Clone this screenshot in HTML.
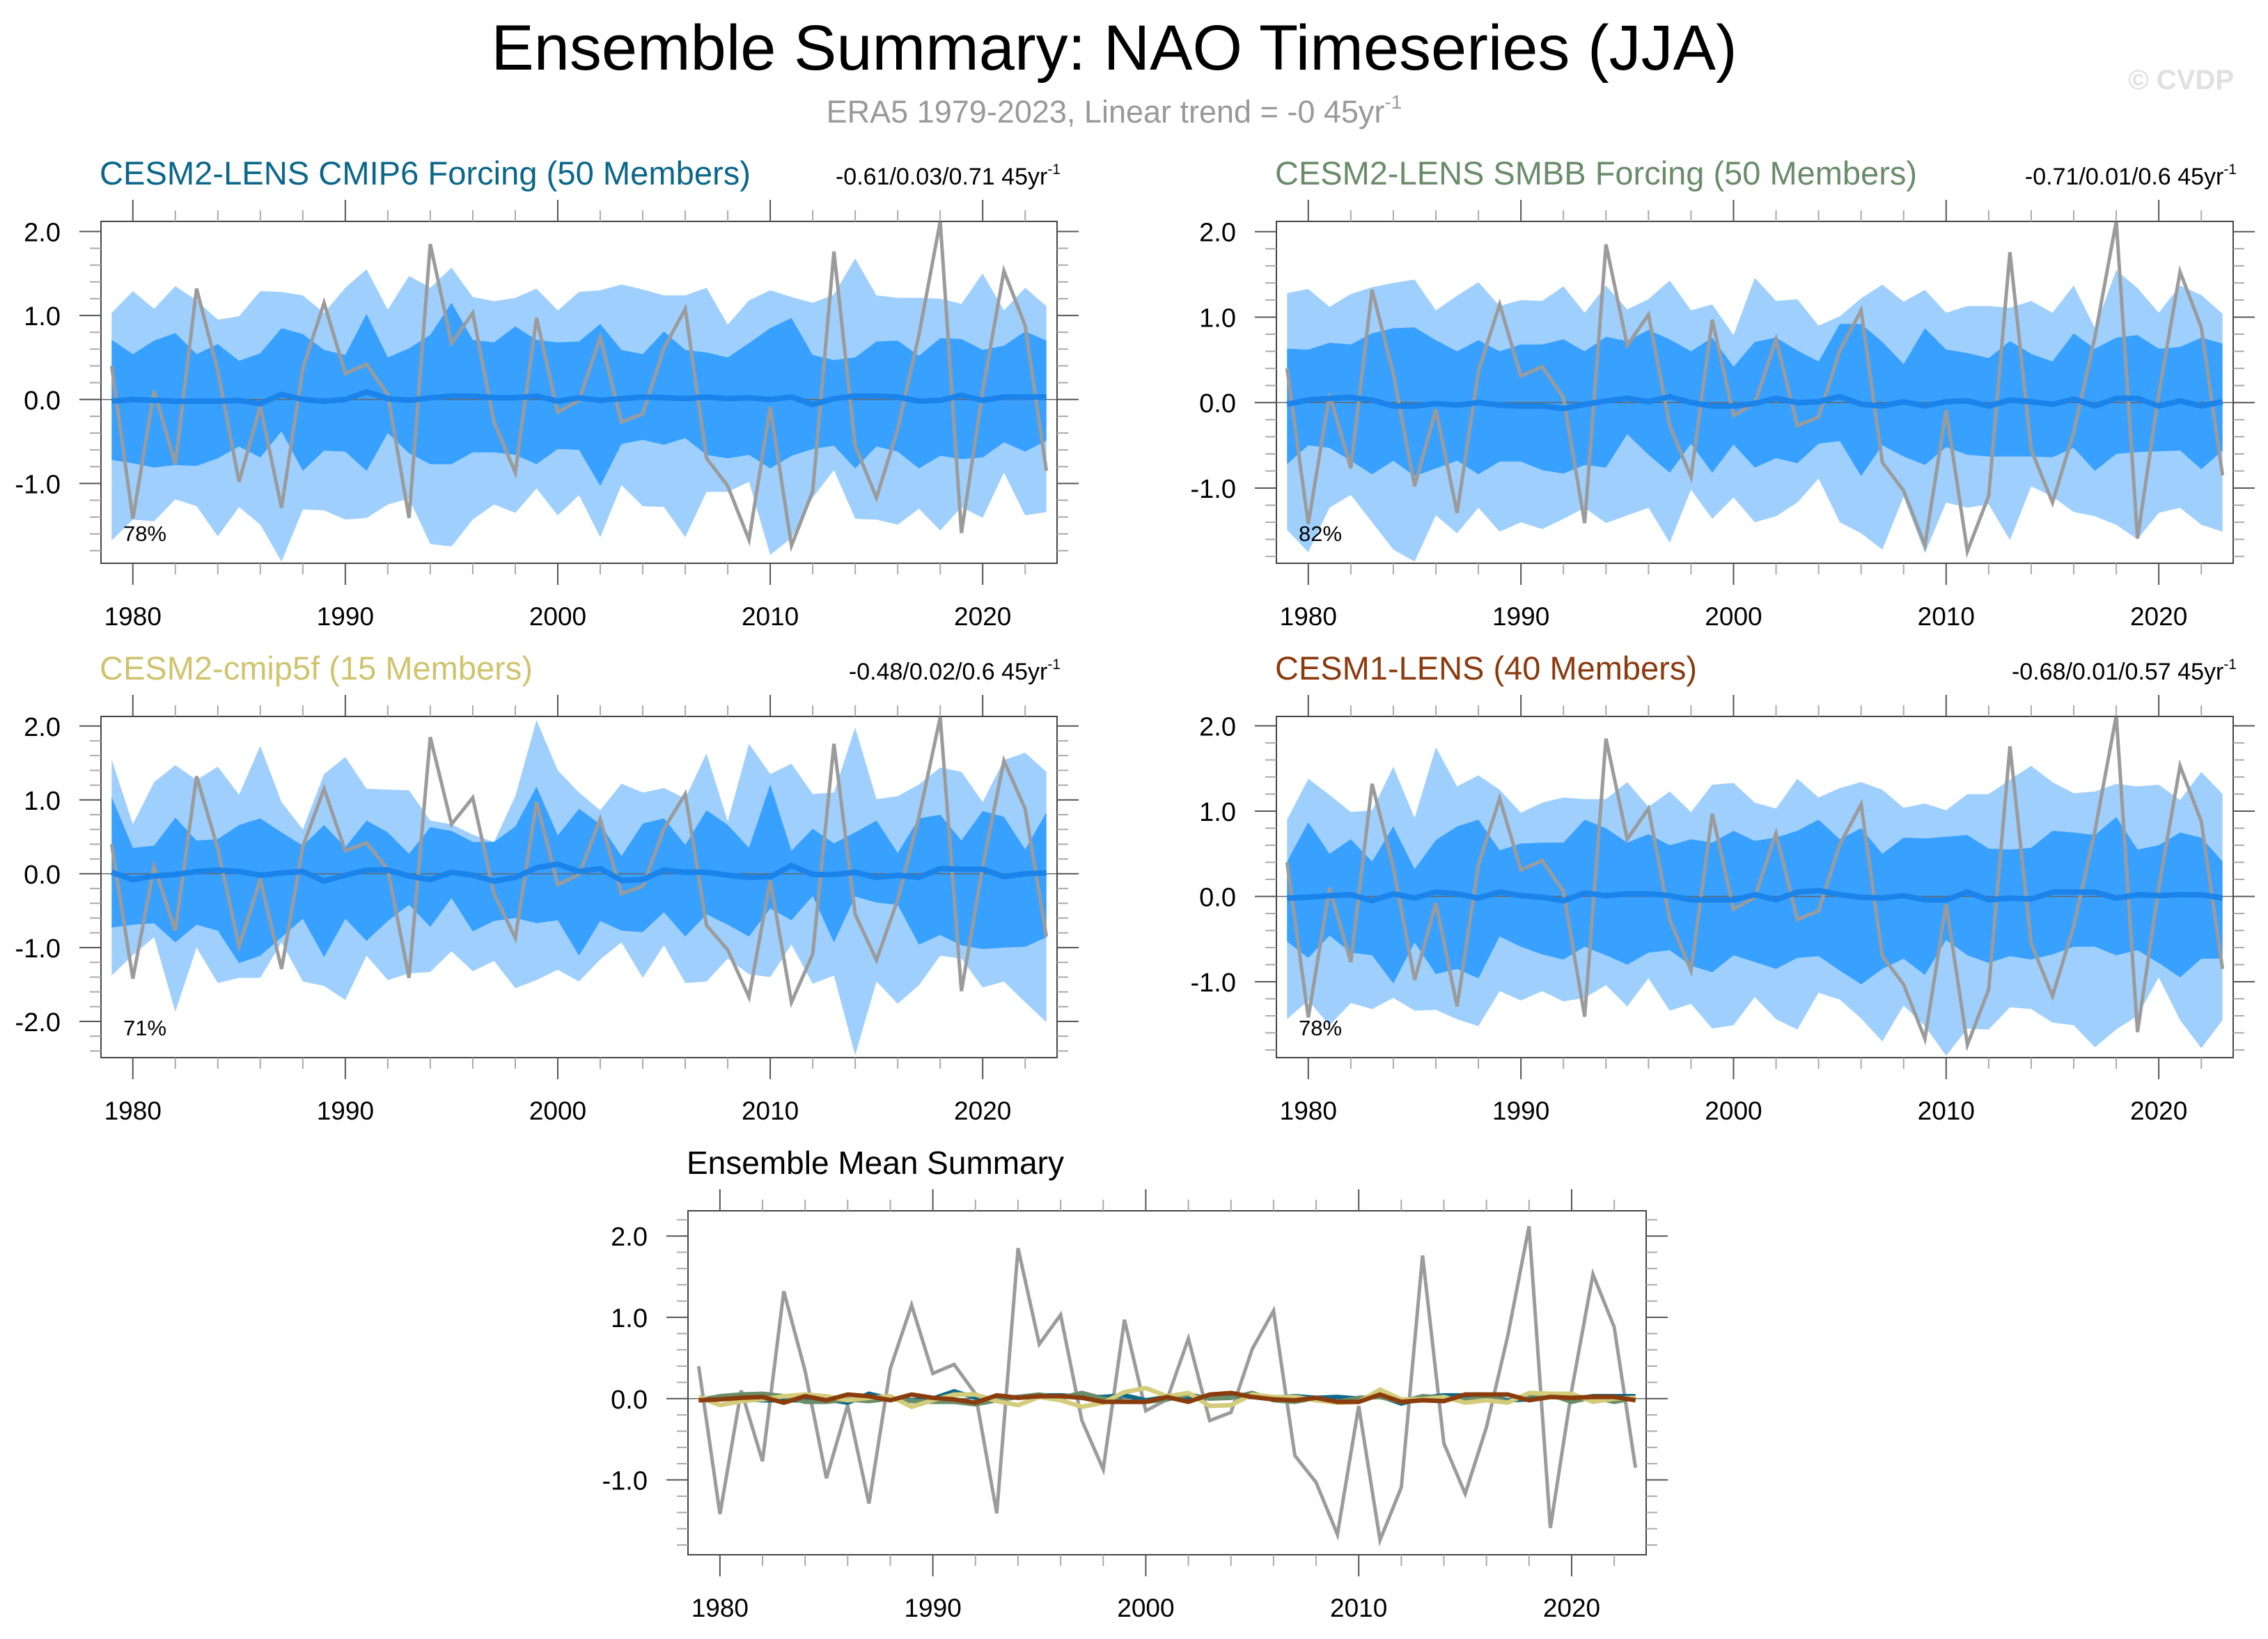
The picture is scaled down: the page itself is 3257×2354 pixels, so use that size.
<!DOCTYPE html>
<html><head><meta charset="utf-8"><title>Ensemble Summary: NAO Timeseries (JJA)</title>
<style>
html,body{margin:0;padding:0;background:#fff;}
svg{display:block;font-family:"Liberation Sans",Arial,sans-serif;}
</style></head>
<body>
<svg id="chart" width="3257" height="2354" viewBox="0 0 3257 2354" xmlns="http://www.w3.org/2000/svg">
<text x="1600" y="100" font-size="92" text-anchor="middle" fill="#000">Ensemble Summary: NAO Timeseries (JJA)</text>
<text x="1600" y="176" font-size="45" text-anchor="middle" fill="#999">ERA5 1979-2023, Linear trend = -0 45yr<tspan font-size="28" dy="-20">-1</tspan></text>
<text x="3208" y="128" font-size="40" font-weight="bold" text-anchor="end" fill="#e0e0e0">© CVDP</text>
</svg>
<script>
const years = [];
for (let y = 1979; y <= 2023; y++) years.push(y);
const era5 = [0.40,-1.42,0.10,-0.77,1.32,0.34,-0.98,-0.08,-1.29,0.37,1.15,0.31,0.42,0.06,-1.41,1.85,0.67,1.03,-0.27,-0.87,0.97,-0.15,-0.01,0.74,-0.27,-0.17,0.61,1.08,-0.70,-1.03,-1.67,-0.09,-1.74,-1.09,1.76,-0.55,-1.17,-0.35,0.77,2.12,-1.59,0.10,1.53,0.88,-0.85];

const p1LightHi = [1.03,1.29,1.08,1.35,1.18,0.95,0.99,1.29,1.28,1.24,1.03,1.33,1.55,1.07,1.47,1.33,1.57,1.22,1.17,1.21,1.32,1.06,1.28,1.30,1.37,1.31,1.24,1.24,1.33,0.89,1.18,1.30,1.22,1.15,1.25,1.68,1.24,1.21,1.21,1.20,1.14,1.50,1.06,1.33,1.11];
const p1DarkHi = [0.71,0.54,0.70,0.79,0.54,0.66,0.46,0.55,0.85,0.78,0.59,0.53,1.02,0.50,0.61,0.77,1.15,0.71,0.68,0.87,0.71,0.68,0.69,0.90,0.59,0.54,0.81,0.59,0.56,0.50,0.67,0.85,0.97,0.53,0.47,0.50,0.69,0.70,0.52,0.73,0.72,0.59,0.64,0.81,0.70];
const p1DarkLo = [-0.72,-0.76,-0.81,-0.78,-0.79,-0.70,-0.56,-0.69,-0.38,-0.85,-0.61,-0.62,-0.85,-0.40,-0.64,-0.77,-0.77,-0.63,-0.63,-0.66,-0.77,-0.59,-0.60,-1.03,-0.53,-0.48,-0.54,-0.46,-0.66,-0.70,-0.66,-0.82,-0.67,-0.59,-0.55,-0.82,-0.56,-0.62,-0.82,-0.67,-0.71,-0.69,-0.51,-0.62,-0.49];
const p1LightLo = [-1.68,-1.43,-1.45,-1.19,-1.27,-1.63,-1.28,-1.49,-1.93,-1.31,-1.32,-1.43,-1.41,-1.25,-1.18,-1.72,-1.75,-1.43,-1.25,-1.35,-1.06,-1.38,-1.14,-1.64,-1.02,-1.27,-1.28,-1.64,-1.10,-1.10,-0.98,-1.85,-1.65,-1.17,-0.84,-1.42,-1.43,-1.49,-1.30,-1.56,-1.28,-1.41,-0.87,-1.38,-1.34];
const p1Mean = [-0.02,0,-0.01,-0.02,-0.02,-0.02,-0.01,-0.05,0.06,0,-0.02,0,0.09,0.01,-0.01,0.02,0.04,0.04,0.02,0.02,0.04,-0.02,0.02,-0.01,0.01,0.03,0.02,0.01,0.03,0.01,0.02,0,0.03,-0.06,0.01,0.04,0.04,0.03,-0.02,-0.01,0.05,-0.01,0.03,0.03,0.03];

const p2LightHi = [1.28,1.33,1.12,1.27,1.35,1.40,1.44,1.08,1.25,1.41,1.13,1.20,1.19,1.36,1.05,1.37,1.09,1.21,1.43,1.08,1.15,0.79,1.46,1.19,1.21,0.90,1.01,1.22,1.38,1.18,1.32,1.05,1.13,1.13,1.11,1.19,1.05,1.37,0.87,1.55,1.34,1.05,1.37,1.26,1.04];
const p2DarkHi = [0.63,0.62,0.70,0.68,0.81,0.87,0.88,0.73,0.60,0.73,0.60,0.68,0.68,0.74,0.60,0.77,0.72,0.85,0.74,0.60,0.76,0.42,0.71,0.76,0.61,0.48,0.92,0.92,0.71,0.45,0.87,0.62,0.58,0.52,0.72,0.57,0.48,0.81,0.63,0.76,0.79,0.63,0.65,0.76,0.69];
const p2DarkLo = [-0.72,-0.50,-0.53,-0.68,-0.84,-0.68,-0.86,-0.77,-0.68,-0.84,-0.69,-0.69,-0.79,-0.83,-0.73,-0.76,-0.37,-0.61,-0.82,-0.48,-0.82,-0.49,-0.76,-0.65,-0.71,-0.48,-0.45,-0.86,-0.50,-0.63,-0.73,-0.52,-0.61,-0.63,-0.63,-0.63,-0.64,-0.53,-0.80,-0.60,-0.58,-0.57,-0.56,-0.78,-0.56];
const p2LightLo = [-1.49,-1.75,-1.23,-1.08,-1.40,-1.72,-1.86,-1.32,-1.53,-1.23,-1.51,-1.40,-1.48,-1.36,-1.23,-1.41,-1.32,-1.23,-1.64,-1.02,-1.36,-1.11,-1.40,-1.33,-1.17,-0.89,-1.40,-1.53,-1.72,-1.10,-1.76,-1.17,-1.23,-1.19,-1.61,-0.98,-1.10,-1.28,-1.33,-1.43,-1.60,-1.29,-1.23,-1.43,-1.51];
const p2Mean = [-0.02,0.03,0.05,0.06,0.03,-0.04,-0.04,-0.01,-0.03,0,-0.03,-0.04,-0.04,-0.07,-0.02,0.02,0.05,0.01,0.07,0,-0.04,-0.04,-0.01,0.05,0,0.01,0.07,-0.02,-0.04,0.01,-0.04,0.01,0.02,-0.04,0.03,0.01,-0.02,0.04,-0.04,0.05,0.05,-0.04,0.02,-0.04,0.01];

const p3LightHi = [1.55,0.67,1.24,1.47,1.27,1.45,1.07,1.73,0.97,0.60,1.35,1.58,1.15,1.14,1.13,0.72,0.67,0.53,0.43,1.05,2.08,1.40,1.10,0.86,1.22,1.10,1.16,1.02,1.63,0.71,1.76,1.35,1.49,1.08,1.10,1.98,1.01,1.05,1.21,1.44,1.38,0.97,1.54,1.64,1.38];
const p3DarkHi = [1.04,0.35,0.38,0.76,0.45,0.47,0.66,0.75,0.56,0.38,0.66,0.36,0.72,0.56,0.27,0.63,0.58,0.43,0.43,0.64,1.18,0.52,0.88,0.67,0.24,0.68,0.75,0.39,0.86,0.66,0.35,1.21,0.31,0.61,0.41,0.56,0.72,0.28,0.75,0.80,0.45,0.85,0.77,0.33,0.83];
const p3DarkLo = [-0.73,-0.69,-0.67,-0.93,-0.69,-0.77,-1.21,-1.11,-0.86,-0.61,-1.13,-0.61,-0.91,-0.64,-0.42,-0.72,-0.33,-0.78,-0.64,-0.60,-0.67,-0.63,-1.11,-0.64,-0.77,-0.79,-0.52,-0.85,-0.55,-0.69,-0.85,-0.47,-0.63,-0.30,-0.93,-0.31,-0.39,-0.42,-0.96,-0.83,-0.97,-1.02,-1.00,-0.99,-0.86];
const p3LightLo = [-1.38,-1.10,-0.86,-1.87,-1.00,-1.48,-1.41,-1.41,-0.93,-1.46,-1.52,-1.71,-1.11,-1.44,-1.35,-1.33,-1.05,-1.32,-1.18,-1.55,-1.44,-1.30,-1.46,-1.16,-0.93,-1.41,-0.97,-1.48,-1.46,-1.15,-1.36,-1.40,-0.96,-1.49,-1.38,-2.46,-1.46,-1.76,-1.51,-1.11,-1.15,-1.54,-1.46,-1.74,-2.01];
const p3Mean = [0.02,-0.08,-0.03,-0.01,0.03,0.05,0.03,-0.02,0.01,0.03,-0.10,-0.02,0.05,0.05,-0.03,-0.08,0.02,-0.02,-0.10,-0.05,0.08,0.13,0.03,0.07,-0.09,-0.08,0.05,0.02,0.02,-0.02,-0.05,-0.04,0.11,-0.01,-0.01,0.02,-0.05,-0.02,-0.05,0.07,0.06,0.06,-0.04,0,0.01];

const p4LightHi = [0.90,1.38,1.19,0.99,1.01,1.52,0.92,1.75,1.29,1.42,1.25,0.98,1.10,1.16,1.14,1.14,1.34,1.05,1.23,0.99,1.31,1.33,1.10,1.03,1.38,1.16,1.27,1.34,1.25,1.04,1.09,1.01,1.20,1.20,1.37,1.53,1.34,1.21,1.23,1.32,1.29,1.31,1.13,1.46,1.20];
const p4DarkHi = [0.41,0.87,0.50,0.67,0.41,0.82,0.32,0.66,0.82,0.90,0.54,0.62,0.63,0.63,0.90,0.80,0.63,0.73,0.60,0.67,0.63,0.77,0.65,0.69,0.77,0.90,0.67,0.80,0.50,0.69,0.68,0.70,0.72,0.56,0.55,0.57,0.77,0.75,0.72,0.93,0.55,0.60,0.75,0.69,0.41];
const p4DarkLo = [-0.53,-0.72,-0.46,-0.66,-0.69,-1.02,-0.54,-0.91,-0.85,-0.96,-0.47,-0.59,-0.68,-0.74,-0.59,-0.69,-0.80,-0.66,-0.63,-0.81,-0.89,-0.69,-0.77,-0.85,-0.72,-0.70,-0.87,-1.03,-0.85,-0.73,-0.92,-0.51,-0.69,-0.78,-0.70,-0.74,-0.68,-0.59,-0.59,-0.69,-0.63,-0.78,-0.95,-0.73,-0.73];
const p4LightLo = [-1.44,-1.22,-1.51,-1.25,-1.32,-1.19,-1.34,-1.33,-1.44,-1.52,-1.11,-1.22,-1.11,-1.23,-1.19,-1.04,-1.29,-0.96,-1.34,-1.26,-1.55,-1.51,-1.18,-1.44,-1.56,-1.13,-1.21,-1.43,-1.70,-1.28,-1.52,-1.87,-1.55,-1.56,-1.30,-1.32,-1.48,-1.51,-1.77,-1.56,-1.40,-0.95,-1.45,-1.78,-1.45];
const p4Mean = [-0.02,-0.01,0.01,0.02,-0.05,0.03,-0.02,0.05,0.03,-0.02,0.05,0.01,-0.01,-0.05,0.04,0.01,0.03,0.03,0.01,-0.04,-0.04,-0.04,0.02,-0.04,0.05,0.07,0.02,-0.01,-0.02,0.01,-0.04,-0.04,0.05,-0.04,-0.02,-0.03,0.05,0.05,0.05,-0.02,0.02,0.01,0.02,0.02,-0.02];

const yTickLabels = ["2.0","1.0","0.0","-1.0","-2.0"];
const yTickValues = [2,1,0,-1,-2];
const xTickYears = [1980,1990,2000,2010,2020];

const svg = document.getElementById('chart');
const NS = 'http://www.w3.org/2000/svg';
function mk(tag, attrs, parent) {
  const e = document.createElementNS(NS, tag);
  for (const k in attrs) e.setAttribute(k, attrs[k]);
  (parent || svg).appendChild(e);
  return e;
}

function drawPanel(cfg) {
  const g = mk('g', {});
  
  
  const L = cfg.left, R = cfg.right, T = cfg.top, B = cfg.bottom;
  const xmin = 1978.5, xmax = 2023.5;
  const xs = v => L + (v - xmin) / (xmax - xmin) * (R - L);
  const ys = v => T + (cfg.ymax - v) / (cfg.ymax - cfg.ymin) * (B - T);

  if (cfg.title) {
    const t = mk('text', {x: L - 2, y: T - 53, 'font-size': 47, fill: cfg.titleColor, textLength: cfg.titleLen, lengthAdjust: 'spacingAndGlyphs'}, g);
    t.textContent = cfg.title;
    
    
  }
  if (cfg.stats) {
    const t = mk('text', {x: R + 5, y: T - 53, 'font-size': 34, fill: '#000', 'text-anchor': 'end'}, g);
    t.textContent = cfg.stats;
    const sp = mk('tspan', {'font-size': 21, dy: -15}, t);
    sp.textContent = '-1';
    
    
  }
  const band = (hi, lo, color, nm) => {
    let d = '';
    years.forEach((y, i) => { d += (i ? 'L' : 'M') + xs(y).toFixed(1) + ',' + ys(hi[i]).toFixed(1); });
    for (let i = years.length - 1; i >= 0; i--) d += 'L' + xs(years[i]).toFixed(1) + ',' + ys(lo[i]).toFixed(1);
    const p = mk('path', {d: d + 'Z', fill: color}, g);
    
    
  };
  const line = (vals, color, w, nm) => {
    let d = '';
    years.forEach((y, i) => { d += (i ? 'L' : 'M') + xs(y).toFixed(1) + ',' + ys(vals[i]).toFixed(1); });
    const p = mk('path', {d: d, fill: 'none', stroke: color, 'stroke-width': w, 'stroke-linejoin': 'miter'}, g);
    
    
  };
  if (cfg.lightHi) {
    band(cfg.lightHi, cfg.lightLo, '#9fd0fd', 'outer-spread-band');
    band(cfg.darkHi, cfg.darkLo, '#38a0ff', 'inner-spread-band');
  }
  const z = mk('line', {x1: L, x2: R, y1: ys(0), y2: ys(0), stroke: '#666', 'stroke-width': 1.5}, g);
  
  
  if (cfg.mean) {
    line(era5, '#9b9b9b', 5, 'era5-line');
    line(cfg.mean, '#1b84ea', 8, 'ensemble-mean-line');
  }
  if (cfg.multi) {
    line(era5, '#9b9b9b', 5, 'era5-line');
    cfg.multi.forEach(m => line(m.vals, m.color, 6.5, m.name));
  }
  const bx = mk('rect', {x: L, y: T, width: R - L, height: B - T, fill: 'none', stroke: '#444', 'stroke-width': 2}, g);
  
  
  const step = 0.2;
  for (let k = Math.ceil(cfg.ymin / step); k <= Math.floor(cfg.ymax / step); k++) {
    const v = k * step, yy = ys(v);
    const major = Math.abs(v - Math.round(v)) < 1e-6;
    const len = major ? 31 : 16;
    mk('line', {x1: L - len, x2: L, y1: yy, y2: yy, stroke: major ? '#555' : '#aaa', 'stroke-width': 2}, g);
    mk('line', {x1: R, x2: R + len, y1: yy, y2: yy, stroke: major ? '#555' : '#aaa', 'stroke-width': 2}, g);
  }
  yTickValues.forEach((v, i) => {
    if (v < cfg.ymin || v > cfg.ymax) return;
    const t = mk('text', {x: L - 58, y: ys(v) + 14, 'font-size': 38, 'text-anchor': 'end', fill: '#000'}, g);
    t.textContent = yTickLabels[i];
    
    
  });
  for (let y = 1980; y <= 2022; y += 2) {
    const major = y % 10 === 0, len = major ? 31 : 16, xx = xs(y);
    const c = major ? '#555' : '#aaa';
    mk('line', {x1: xx, x2: xx, y1: B, y2: B + len, stroke: c, 'stroke-width': 2}, g);
    mk('line', {x1: xx, x2: xx, y1: T - len, y2: T, stroke: c, 'stroke-width': 2}, g);
  }
  xTickYears.forEach(y => {
    const t = mk('text', {x: xs(y), y: B + 89, 'font-size': 37, 'text-anchor': 'middle', fill: '#000'}, g);
    t.textContent = String(y);
    
    
  });
  if (cfg.pct) {
    const t = mk('text', {x: L + 32, y: B - 32, 'font-size': 31, fill: '#000'}, g);
    t.textContent = cfg.pct;
    
    
  }
  if (cfg.bigTitle) {
    const t = mk('text', {x: L - 2, y: T - 53, 'font-size': 46, fill: '#000'}, g);
    t.textContent = cfg.bigTitle;
    
    
  }
}

drawPanel({name: 'panel-cesm2-lens-cmip6', left: 145, right: 1518, top: 318, bottom: 809, ymin: -1.95, ymax: 2.12,
  title: 'CESM2-LENS CMIP6 Forcing (50 Members)', titleLen: 935, titleColor: '#0b6789', stats: '-0.61/0.03/0.71 45yr', pct: '78%',
  lightHi: p1LightHi, lightLo: p1LightLo, darkHi: p1DarkHi, darkLo: p1DarkLo, mean: p1Mean});
drawPanel({name: 'panel-cesm2-lens-smbb', left: 1833, right: 3207, top: 318, bottom: 809, ymin: -1.88, ymax: 2.12,
  title: 'CESM2-LENS SMBB Forcing (50 Members)', titleLen: 922, titleColor: '#6a8c6a', stats: '-0.71/0.01/0.6 45yr', pct: '82%',
  lightHi: p2LightHi, lightLo: p2LightLo, darkHi: p2DarkHi, darkLo: p2DarkLo, mean: p2Mean});
drawPanel({name: 'panel-cesm2-cmip5f', left: 145, right: 1518, top: 1029, bottom: 1519, ymin: -2.49, ymax: 2.13,
  title: 'CESM2-cmip5f (15 Members)', titleLen: 622, titleColor: '#cfc46e', stats: '-0.48/0.02/0.6 45yr', pct: '71%',
  lightHi: p3LightHi, lightLo: p3LightLo, darkHi: p3DarkHi, darkLo: p3DarkLo, mean: p3Mean});
drawPanel({name: 'panel-cesm1-lens', left: 1833, right: 3207, top: 1029, bottom: 1519, ymin: -1.89, ymax: 2.11,
  title: 'CESM1-LENS (40 Members)', titleLen: 606, titleColor: '#8b3a0e', stats: '-0.68/0.01/0.57 45yr', pct: '78%',
  lightHi: p4LightHi, lightLo: p4LightLo, darkHi: p4DarkHi, darkLo: p4DarkLo, mean: p4Mean});
drawPanel({name: 'panel-ensemble-mean-summary', left: 988, right: 2364, top: 1739, bottom: 2233, ymin: -1.92, ymax: 2.31,
  bigTitle: 'Ensemble Mean Summary',
  multi: [
    {vals: p1Mean, color: '#0b6a8c', name: 'cmip6-mean-line'},
    {vals: p2Mean, color: '#6a8d6a', name: 'smbb-mean-line'},
    {vals: p3Mean, color: '#d3cc7a', name: 'cmip5f-mean-line'},
    {vals: p4Mean, color: '#8b3c0d', name: 'cesm1-mean-line'}
  ]});
</script>
</body></html>
